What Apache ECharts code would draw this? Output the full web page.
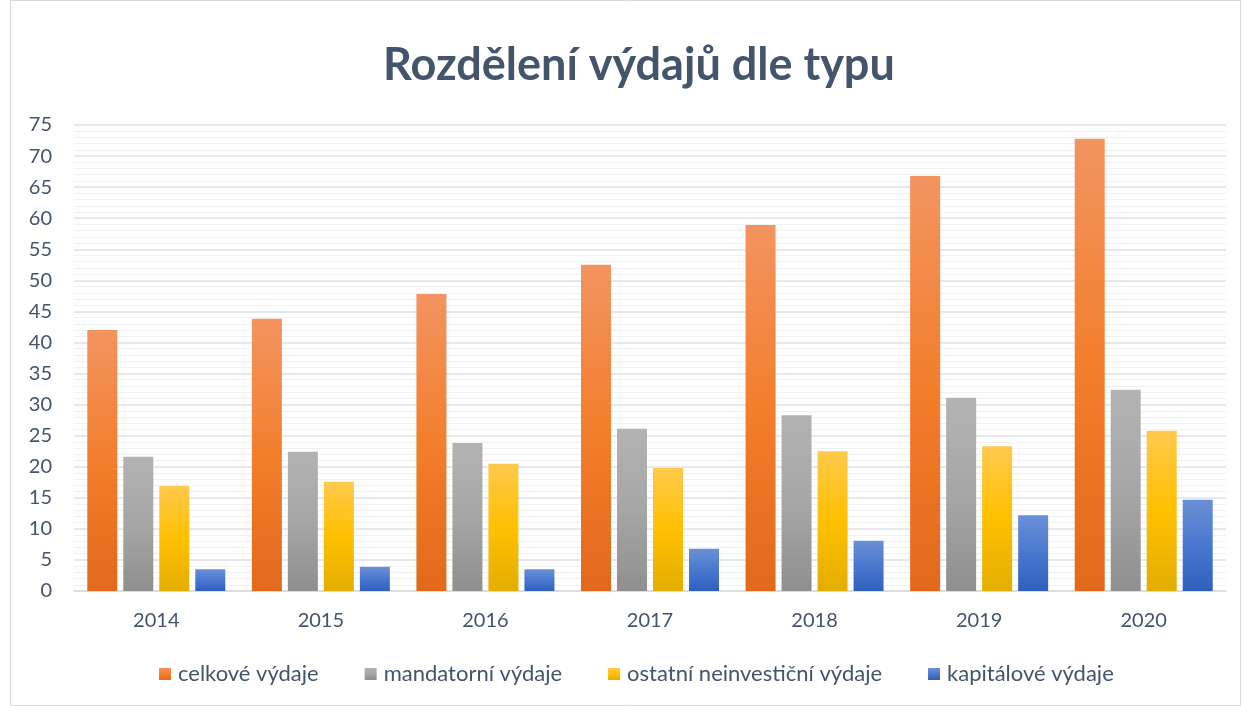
<!DOCTYPE html>
<html>
<head>
<meta charset="utf-8">
<title>Rozdělení výdajů dle typu</title>
<style>
  html, body { margin: 0; padding: 0; background: #fff; }
  #main { width: 1242px; height: 706px; }
</style>
</head>
<body>
<div id="main"></div>
<script src="https://cdn.jsdelivr.net/npm/echarts@6/dist/echarts.min.js"></script>
<script>
var years = ['2014', '2015', '2016', '2017', '2018', '2019', '2020'];
var celkove = [42.0, 43.8, 47.8, 52.5, 58.9, 66.8, 72.8];
var mandatorni = [21.6, 22.4, 23.8, 26.1, 28.3, 31.1, 32.4];
var ostatni = [16.9, 17.6, 20.5, 19.8, 22.5, 23.3, 25.8];
var kapitalove = [3.5, 3.9, 3.5, 6.8, 8.1, 12.2, 14.7];
var seriesNames = ['celkové výdaje', 'mandatorní výdaje', 'ostatní neinvestiční výdaje', 'kapitálové výdaje'];

var textColor = '#44546a';
var font = 'Lato, "Open Sans", sans-serif';

function grad(top, mid, bottom) {
  return new echarts.graphic.LinearGradient(0, 0, 0, 1, [
    { offset: 0, color: top },
    { offset: 0.5, color: mid },
    { offset: 1, color: bottom }
  ]);
}

var colors = [
  grad('#f29460', '#f37e2c', '#e2691a'),
  grad('#b3b3b3', '#a6a6a6', '#8f8f8f'),
  grad('#ffc94d', '#ffc000', '#e3ae00'),
  grad('#6b8fd6', '#4a78d0', '#2f5fbd')
];

function bar(name, data, i) {
  return {
    name: name,
    type: 'bar',
    data: data,
    barWidth: 30,
    barGap: '20%',
    itemStyle: { color: colors[i] }
  };
}

var chart = echarts.init(document.getElementById('main'));
chart.setOption({
  animation: false,
  backgroundColor: '#fff',
  graphic: [{
    type: 'rect',
    shape: { x: 10.5, y: 0.5, width: 1230, height: 705 },
    style: { fill: 'none', stroke: '#d9d9d9', lineWidth: 1 },
    silent: true
  }],
  title: {
    text: 'Rozdělení výdajů dle typu',
    left: 378,
    top: 38,
    textStyle: { fontFamily: font, fontWeight: 'bold', fontSize: 45, color: textColor }
  },
  grid: { left: 74, right: 16, top: 125, bottom: 115, containLabel: false },
  legend: {
    bottom: 16,
    left: 154,
    itemWidth: 12,
    itemHeight: 12,
    itemGap: 46,
    icon: 'rect',
    textStyle: { fontFamily: font, fontSize: 22, color: textColor, padding: [0, 0, 0, 2] },
    data: seriesNames
  },
  xAxis: {
    type: 'category',
    data: years,
    axisLine: { lineStyle: { color: '#d9d9d9', width: 1.5 } },
    axisTick: { show: false },
    axisLabel: { fontFamily: font, fontSize: 20, color: textColor, margin: 20 }
  },
  yAxis: {
    type: 'value',
    min: 0,
    max: 75,
    interval: 5,
    axisLine: { show: false },
    axisTick: { show: false },
    axisLabel: { fontFamily: font, fontSize: 20, color: textColor, margin: 22 },
    splitLine: { lineStyle: { color: '#dde2ea', width: 1.5 } },
    minorTick: { show: false, splitNumber: 5 },
    minorSplitLine: { show: true, lineStyle: { color: '#f0f1f3', width: 1 } }
  },
  series: [
    bar(seriesNames[0], celkove, 0),
    bar(seriesNames[1], mandatorni, 1),
    bar(seriesNames[2], ostatni, 2),
    bar(seriesNames[3], kapitalove, 3)
  ]
});
</script>
</body>
</html>
